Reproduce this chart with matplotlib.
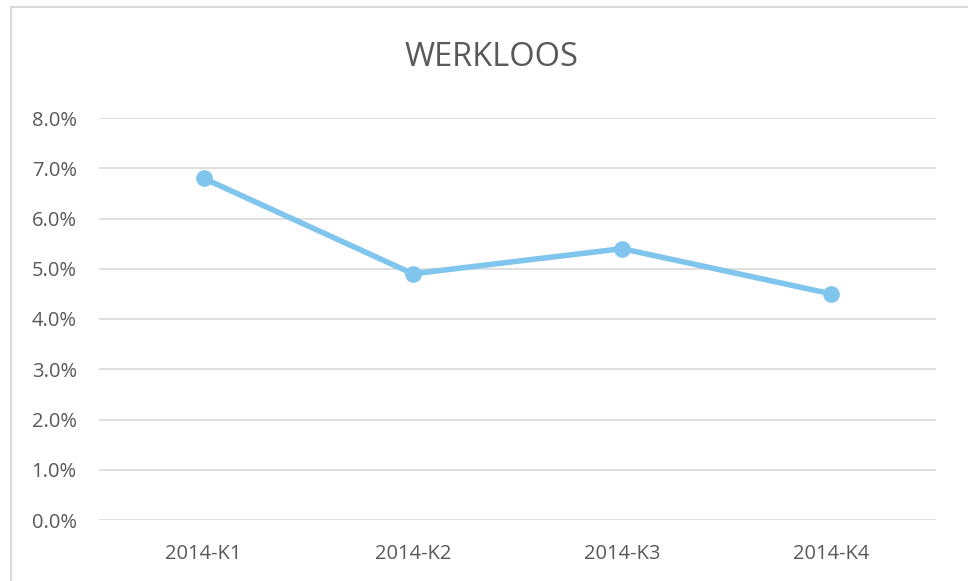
import matplotlib
matplotlib.use("Agg")
import matplotlib.pyplot as plt
from matplotlib.patches import Rectangle
from matplotlib.ticker import FuncFormatter

quarters = ["2014-K1", "2014-K2", "2014-K3", "2014-K4"]
werkloos = [6.8, 4.9, 5.4, 4.5]
yticks = [0, 1, 2, 3, 4, 5, 6, 7, 8]

plt.rcParams["font.family"] = ["Open Sans", "DejaVu Sans"]
txt = "#595959"
grid = "#d9d9d9"

fig = plt.figure(figsize=(9.68, 5.81), dpi=100)
ax = fig.add_axes([99 / 968, 1 - 520 / 581, (936 - 99) / 968, (520 - 118) / 581])

# chart border, runs off the right and bottom edges
fig.patches.append(Rectangle((11 / 968, -0.1), 1.1, 1 - 7 / 581 + 0.1,
                             transform=fig.transFigure, fill=False,
                             edgecolor=grid, lw=1.5))

x = range(len(quarters))
ax.plot(x, werkloos, color="#7fc5ee", lw=4, marker="o", ms=11,
        solid_capstyle="round", zorder=3)

ax.set_xlim(-0.5, len(quarters) - 0.5)
ax.set_ylim(0, 8)
ax.set_yticks(yticks)
ax.yaxis.set_major_formatter(FuncFormatter(lambda v, p: f"{v:.1f}%"))
ax.set_xticks(list(x))
ax.set_xticklabels(quarters)
ax.grid(axis="y", color=grid, lw=1.2)
ax.set_axisbelow(True)
for s in ax.spines.values():
    s.set_visible(False)
ax.tick_params(length=0, labelsize=14.5, colors=txt)
ax.tick_params(axis="y", pad=16)
ax.tick_params(axis="x", pad=17)

fig.text(491 / 968, 1 - 58 / 581, "WERKLOOS", ha="center", va="center",
         fontsize=23.5, color=txt)

fig.savefig("out.png", dpi=100)
